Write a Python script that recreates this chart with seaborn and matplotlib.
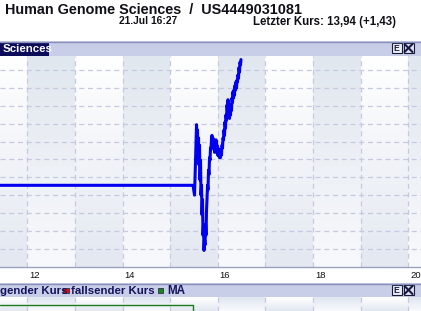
import numpy as np
import pandas as pd
import matplotlib
matplotlib.use("Agg")
import matplotlib.pyplot as plt
import matplotlib.transforms as mtransforms
from matplotlib.patches import Rectangle
from matplotlib.colors import to_rgb
import seaborn as sns

# ---------------- data ----------------
title = "Human Genome Sciences  /  US4449031081"
date_label = "21.Jul 16:27"
last_label = "Letzter Kurs: 13,94 (+1,43)"
panel_label = "Sciences"
legend_left = "gender Kurs"
legend_mid = "fallsender Kurs"
legend_right = "MA"
hour_ticks = [12, 14, 16, 18, 20]
hour_grid = [12, 13, 14, 15, 16, 17, 18, 19, 20]
price_grid = [11.8, 12.0, 12.2, 12.4, 12.6, 12.8, 13.0, 13.2, 13.4, 13.6, 13.8]

times = [11.43, 15.481, 15.513, 15.534, 15.555, 15.565, 15.576, 15.586, 15.597,
         15.607, 15.618, 15.628, 15.639, 15.649, 15.660, 15.670, 15.681, 15.691,
         15.702, 15.712, 15.723, 15.733, 15.744, 15.754, 15.765, 15.775, 15.786,
         15.796, 15.807, 15.817, 15.828, 15.838, 15.849, 15.859, 15.870, 15.880,
         15.891, 15.901, 15.912, 15.922, 15.933, 15.943, 15.954, 15.964, 15.975,
         15.985, 15.996, 16.006, 16.017, 16.027, 16.038, 16.048, 16.059, 16.069,
         16.080, 16.090, 16.101, 16.111, 16.122, 16.132, 16.143, 16.153, 16.164,
         16.174, 16.185, 16.195, 16.206, 16.216, 16.227, 16.237, 16.248, 16.258,
         16.269, 16.279, 16.290, 16.300, 16.311, 16.321, 16.332, 16.342, 16.353,
         16.363, 16.374, 16.384, 16.395, 16.405, 16.416, 16.426, 16.437, 16.447,
         16.458, 16.468, 16.479, 16.489]
prices = [12.51, 12.51, 12.40, 12.79, 13.19, 13.02, 13.13, 12.85, 13.04,
          12.74, 12.96, 12.57, 12.79, 12.40, 12.51, 12.18, 12.35, 11.95,
          12.07, 11.78, 11.90, 11.84, 12.07, 11.95, 12.23, 12.35, 12.51,
          12.46, 12.68, 12.63, 12.82, 12.79, 12.93, 12.91, 13.04, 13.07,
          12.96, 13.04, 12.93, 13.02, 12.88, 13.00, 12.91, 13.02, 12.88,
          12.96, 12.85, 12.93, 12.84, 12.91, 12.82, 12.88, 12.82, 12.91,
          12.85, 12.96, 12.93, 13.04, 13.02, 13.13, 13.07, 13.22, 13.15,
          13.30, 13.24, 13.41, 13.35, 13.47, 13.33, 13.38, 13.26, 13.33,
          13.30, 13.41, 13.35, 13.49, 13.44, 13.56, 13.49, 13.58, 13.52,
          13.63, 13.58, 13.67, 13.60, 13.69, 13.67, 13.75, 13.71, 13.83,
          13.78, 13.89, 13.86, 13.92]

# lower panel (volume box outline)
vol_times = [11.43, 15.48, 15.48]
vol_level = [1.0, 1.0, 0.0]

df = pd.DataFrame({"time": times, "price": prices})
dfv = pd.DataFrame({"time": vol_times, "level": vol_level})

# ---------------- layout ----------------
sns.set_theme(style="white")
plt.rcParams["font.family"] = ["Liberation Sans", "DejaVu Sans"]

W, H = 421, 311
fig = plt.figure(figsize=(W / 100, H / 100), dpi=100)
fig.patch.set_facecolor("white")

def axes_px(x0, y0, x1, y1, **kw):
    return fig.add_axes([x0 / W, 1 - y1 / H, (x1 - x0) / W, (y1 - y0) / H], **kw)

XMIN, XMAX = 11.426, 20.271
YMIN, YMAX = 11.594, 13.960

navy = "#14145a"
strip = "#c8cde8"
strip_edge = "#8a90b8"
grid_c = "#c6cae0"

def band_background(ax, ylo, yhi, rows):
    cols = 843
    xs = np.linspace(XMIN, XMAX, cols)
    shaded = (np.floor(xs) % 2 == 0)
    t = np.linspace(0, 1, rows)[:, None, None]
    w_top, w_bot = np.array(to_rgb("#ffffff")), np.array(to_rgb("#e3e8f1"))
    s_top, s_bot = np.array(to_rgb("#e1e7ef")), np.array(to_rgb("#f8f9fc"))
    white_img = w_top + (w_bot - w_top) * t
    shade_img = s_top + (s_bot - s_top) * t
    img = np.where(shaded[None, :, None], shade_img, white_img)
    ax.imshow(img, extent=[XMIN, XMAX, ylo, yhi], aspect="auto",
              origin="upper", zorder=0, interpolation="nearest")

# main chart
ax = axes_px(0, 56, W, 267)
band_background(ax, YMIN, YMAX, 211)
sns.lineplot(data=df, x="time", y="price", ax=ax, color="#0000ee",
             linewidth=2.2, estimator=None, sort=False, zorder=3)
ax.set_xlim(XMIN, XMAX)
ax.set_ylim(YMIN, YMAX)
ax.set_xticks(hour_grid)
ax.set_yticks(price_grid)
ax.grid(True, color=grid_c, linestyle=(0, (4, 3)), linewidth=0.9)
for gl in ax.get_xgridlines() + ax.get_ygridlines():
    gl.set_zorder(1)
ax.tick_params(length=0, labelbottom=False, labelleft=False)
ax.set_xlabel("")
ax.set_ylabel("")
for s in ["top", "left", "right"]:
    ax.spines[s].set_visible(False)
ax.spines["bottom"].set_color("#9ca2be")
ax.spines["bottom"].set_linewidth(1.0)

# hour labels (left-aligned just right of the gridline)
lbl_tr = mtransforms.offset_copy(ax.get_xaxis_transform(), fig=fig,
                                 x=2.0, y=-4.0, units="dots")
for h in hour_ticks:
    ax.text(h, 0, str(h), transform=lbl_tr, ha="left", va="top",
            fontsize=6.8, color="#101010", clip_on=False)

# lower panel
ax2 = axes_px(0, 297, W, 311)
band_background(ax2, 0, 2.333, 14)
sns.lineplot(data=dfv, x="time", y="level", ax=ax2, color="#1e7a1e",
             linewidth=1.0, estimator=None, sort=False, zorder=3)
ax2.set_xlim(XMIN, XMAX)
ax2.set_ylim(0, 2.333)
ax2.set_xticks(hour_grid)
ax2.set_yticks([])
ax2.grid(True, axis="x", color=grid_c, linestyle=(0, (4, 3)), linewidth=0.9)
ax2.tick_params(length=0, labelbottom=False, labelleft=False)
ax2.set_xlabel("")
ax2.set_ylabel("")
for s in ax2.spines.values():
    s.set_visible(False)

# overlay for titles / strips
ov = fig.add_axes([0, 0, 1, 1], zorder=5)
ov.set_xlim(0, W)
ov.set_ylim(H, 0)
ov.axis("off")
ov.patch.set_alpha(0)

ov.text(5, 14.5, title, fontsize=10.4, fontweight="bold", color="#101018",
        va="baseline", ha="left")
ov.text(119, 24.5, date_label, fontsize=7.4, fontweight="bold", color="#101018",
        va="baseline", ha="left")
ov.text(253, 24.5, last_label, fontsize=8.3, fontweight="bold", color="#101018",
        va="baseline", ha="left")

def icons(y):
    ov.add_patch(Rectangle((391.5, y), 10, 10, fc="#eceef8", ec="#1a1a40", lw=0.8))
    ov.text(396.5, y + 5.3, "E", fontsize=6.2, color="#1a1a40", ha="center",
            va="center", fontweight="bold")
    ov.add_patch(Rectangle((403.5, y), 10, 10, fc="#dfe2f2", ec="#1a1a40", lw=0.8))
    ov.plot([404.5, 412.5], [y + 1, y + 9], color="#1a1a40", lw=1.5)
    ov.plot([404.5, 412.5], [y + 9, y + 1], color="#1a1a40", lw=1.5)

# top strip
ov.add_patch(Rectangle((0, 41), W, 15, fc=strip, ec="none"))
ov.plot([0, W], [41.5, 41.5], color=strip_edge, lw=1.0)
ov.add_patch(Rectangle((0, 42), 49, 13.5, fc="#0c0c5a", ec="none"))
ov.text(2.5, 52.5, panel_label, fontsize=8.2, fontweight="bold", color="white",
        va="baseline", ha="left")
icons(43)

# lower strip
ov.add_patch(Rectangle((0, 283), W, 14, fc=strip, ec="none"))
ov.plot([0, W], [283.5, 283.5], color=strip_edge, lw=1.0)
ov.text(-0.5, 294, legend_left, fontsize=8.2, fontweight="bold", color=navy,
        va="baseline", ha="left")
ov.add_patch(Rectangle((63, 287.5), 5.5, 5.5, fc="#dd1010", ec="#303050", lw=0.6))
ov.text(71, 294, legend_mid, fontsize=8.2, fontweight="bold", color=navy,
        va="baseline", ha="left")
ov.add_patch(Rectangle((157.5, 287.5), 5.5, 5.5, fc="#108a10", ec="#303050", lw=0.6))
ov.text(167.5, 294, legend_right, fontsize=8.4, fontweight="bold", color=navy,
        va="baseline", ha="left")
icons(285)

fig.savefig("out.png", dpi=100)
